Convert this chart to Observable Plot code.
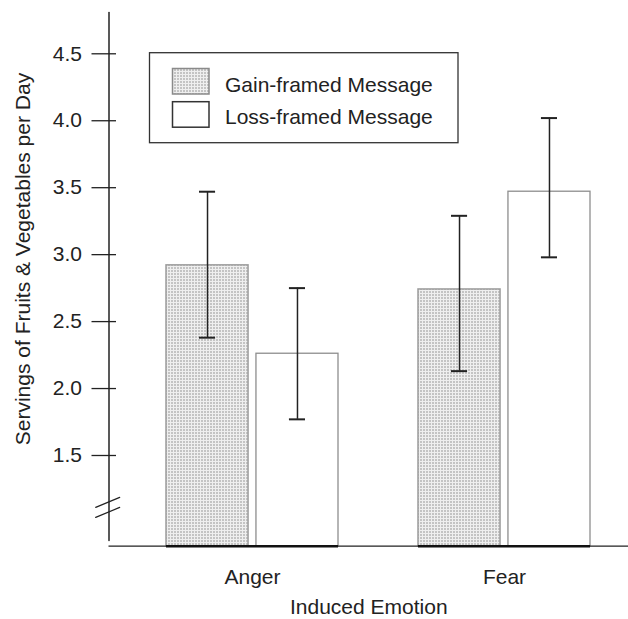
<!DOCTYPE html>
<html>
<head>
<meta charset="utf-8">
<script src="https://cdn.jsdelivr.net/npm/d3@7"></script>
<script src="https://cdn.jsdelivr.net/npm/@observablehq/plot@0.6"></script>
<style>
  body { margin: 0; background: #fff; }
  #chart { position: relative; width: 628px; height: 619px; }
</style>
</head>
<body>
<svg width="0" height="0" style="position:absolute">
  <defs>
    <pattern id="stipple" width="3" height="3" patternUnits="userSpaceOnUse">
      <rect width="3" height="3" fill="#efefef"></rect>
      <rect width="2" height="2" fill="#c4c4c4"></rect>
    </pattern>
  </defs>
</svg>
<div id="chart"></div>
<script>
// ---- data ----
const emotions = ["Anger", "Fear"];
const frames = ["Gain-framed Message", "Loss-framed Message"];
const gainMeans = [2.92, 2.74];
const gainLow = [2.38, 2.13];
const gainHigh = [3.47, 3.29];
const lossMeans = [2.26, 3.47];
const lossLow = [1.77, 2.98];
const lossHigh = [2.75, 4.02];
const yTicks = [1.5, 2.0, 2.5, 3.0, 3.5, 4.0, 4.5];
const breakValues = [1.15, 1.075];
const yTitle = "Servings of Fruits & Vegetables per Day";
const xTitle = "Induced Emotion";

// ---- layout ----
const W = 628, H = 619;
const mL = 108.5, mT = 12, mB = 73.3;
const yMin = 0.8226, yMax = 4.8084;
const xRange = [165, 590.7];
const pI = 0.316;
const band = d3.scaleBand().domain(emotions).range(xRange).paddingInner(pI).paddingOuter(0);
const bw = band.bandwidth();
const gap = 7;
const barW = (bw - gap) / 2;
const off = (barW + gap) / 2;
const capHalf = 8.5;
const capNear = bw / 2 - off - capHalf;
const capFar = bw / 2 + off - capHalf;
const ink = "#222";

const rows = emotions.map((e, i) => ({
  emotion: e,
  gain: gainMeans[i], gainLow: gainLow[i], gainHigh: gainHigh[i],
  loss: lossMeans[i], lossLow: lossLow[i], lossHigh: lossHigh[i]
}));

const lineShape = { draw(context, l) { context.moveTo(0, 0); context.lineTo(0, -l); } };

const chart = Plot.plot({
  width: W, height: H,
  marginLeft: mL, marginRight: 0, marginTop: mT, marginBottom: mB,
  style: { fontFamily: "'Liberation Sans', Arial, sans-serif", fontSize: "21px", color: ink, background: "white" },
  x: { domain: emotions, range: xRange, paddingInner: pI, paddingOuter: 0, tickSize: 0, tickPadding: 23, label: null },
  y: { domain: [yMin, yMax], ticks: yTicks, tickFormat: d3.format(".1f"), tickSize: 0, tickPadding: 27, label: null },
  marks: [
    Plot.barY(rows, { x: "emotion", y1: yMin, y2: "gain", insetRight: bw - barW, fill: "url(#stipple)", stroke: "#9c9c9c", strokeWidth: 1.5 }),
    Plot.barY(rows, { x: "emotion", y1: yMin, y2: "loss", insetLeft: bw - barW, fill: "white", stroke: "#8e8e8e", strokeWidth: 1.3 }),
    Plot.ruleX(rows, { x: "emotion", y1: "gainLow", y2: "gainHigh", dx: -off, stroke: ink, strokeWidth: 1.5 }),
    Plot.tickY(rows, { x: "emotion", y: "gainHigh", insetLeft: capNear, insetRight: capFar, stroke: ink, strokeWidth: 2 }),
    Plot.tickY(rows, { x: "emotion", y: "gainLow", insetLeft: capNear, insetRight: capFar, stroke: ink, strokeWidth: 2 }),
    Plot.ruleX(rows, { x: "emotion", y1: "lossLow", y2: "lossHigh", dx: off, stroke: ink, strokeWidth: 1.5 }),
    Plot.tickY(rows, { x: "emotion", y: "lossHigh", insetLeft: capFar, insetRight: capNear, stroke: ink, strokeWidth: 2 }),
    Plot.tickY(rows, { x: "emotion", y: "lossLow", insetLeft: capFar, insetRight: capNear, stroke: ink, strokeWidth: 2 }),
    // baseline
    Plot.tickY([yMin], { y: d => d, stroke: ink, strokeWidth: 1.2 }),
    Plot.tickY(rows, { x: "emotion", y: () => yMin, stroke: "#111", strokeWidth: 2.6 }),
    // y axis line
    Plot.vector([0], { frameAnchor: "top-left", anchor: "start", rotate: 180, length: 528, shape: lineShape, stroke: ink, strokeWidth: 1.5 }),
    // y ticks crossing the axis
    Plot.tickY(yTicks, { y: d => d, insetRight: (W - mL) - 24.5, dx: -17, stroke: ink, strokeWidth: 1.3 }),
    // axis break marks
    Plot.vector(breakValues, { y: d => d, frameAnchor: "left", anchor: "middle", rotate: 67.4, length: 26, dx: -1.3, shape: lineShape, stroke: ink, strokeWidth: 1.2 }),
    // axis titles
    Plot.text([yTitle], { text: d => d, frameAnchor: "left", textAnchor: "middle", lineAnchor: "middle", rotate: -90, dx: -86, dy: -20.3, fontSize: 21, fill: ink }),
    Plot.text([xTitle], { text: d => d, frameAnchor: "bottom", dy: 68, fontSize: 21, fill: ink })
  ]
});

document.getElementById("chart").appendChild(chart);

// legend inside the plot area
const svg = d3.select(chart.tagName.toLowerCase() === "svg" ? chart : chart.querySelector("svg"));
const lg = svg.append("g").attr("font-family", "'Liberation Sans', Arial, sans-serif").attr("font-size", 21).attr("fill", ink).attr("text-anchor", "start");
lg.append("rect").attr("x", 149.5).attr("y", 52.7).attr("width", 308.5).attr("height", 90)
  .attr("fill", "white").attr("stroke", "#333").attr("stroke-width", 1.3);
const swatches = [
  { fill: "url(#stipple)", stroke: "#8a8a8a" },
  { fill: "white", stroke: "#333" }
];
frames.forEach((f, i) => {
  const y0 = 68.5 + i * 33.2;
  lg.append("rect").attr("x", 172.5).attr("y", y0).attr("width", 36.5).attr("height", 25.5)
    .attr("fill", swatches[i].fill).attr("stroke", swatches[i].stroke).attr("stroke-width", 1.5);
  lg.append("text").attr("x", 225).attr("y", 91.7 + i * 32.6).attr("text-anchor", "start").text(f);
});
</script>
</body>
</html>
